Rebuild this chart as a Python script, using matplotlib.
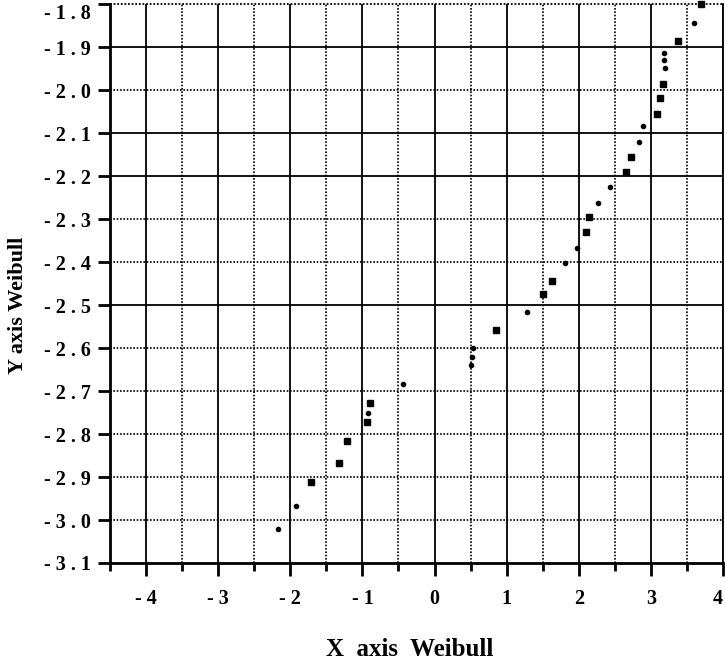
import numpy as np
import matplotlib.pyplot as plt
from matplotlib.ticker import FixedLocator, MultipleLocator

# data
sq_x = [3.69, 3.38, 3.17, 3.13, 3.09, 2.72, 2.65, 2.14, 2.10, 1.63, 1.50,
        0.85, -0.90, -0.94, -1.22, -1.33, -1.71]
sq_y = [-1.800, -1.886, -1.984, -2.017, -2.054, -2.154, -2.189, -2.294, -2.329,
        -2.443, -2.474, -2.558, -2.728, -2.772, -2.816, -2.868, -2.912]

dot_x = [3.60, 3.18, 3.18, 3.19, 2.89, 2.83, 2.43, 2.27, 1.97, 1.81, 1.28,
         0.54, 0.52, 0.50, -0.43, -0.92, -1.92, -2.17]
dot_y = [-1.844, -1.912, -1.930, -1.949, -2.084, -2.119, -2.226, -2.261, -2.366,
         -2.401, -2.516, -2.600, -2.620, -2.640, -2.683, -2.750, -2.968, -3.021]

x_ticks = [-4, -3, -2, -1, 0, 1, 2, 3, 4]
x_labels = ["- 4", "- 3", "- 2", "- 1", "0", "1", "2", "3", "4"]
y_ticks = [-1.8, -1.9, -2.0, -2.1, -2.2, -2.3, -2.4, -2.5, -2.6, -2.7, -2.8, -2.9, -3.0, -3.1]
y_labels = ["- 1 . 8", "- 1 . 9", "- 2 . 0", "- 2 . 1", "- 2 . 2", "- 2 . 3", "- 2 . 4",
            "- 2 . 5", "- 2 . 6", "- 2 . 7", "- 2 . 8", "- 2 . 9", "- 3 . 0", "- 3 . 1"]
solid_y = [-1.9, -2.1, -2.2, -2.5]

plt.rcParams['font.family'] = ['Liberation Serif', 'DejaVu Serif']
plt.rcParams['font.weight'] = 'bold'

fig = plt.figure(figsize=(7.25, 6.66), dpi=100)
ax = fig.add_axes([0.1517, 0.1547, 0.8455, 0.8386])

ax.set_xlim(-4.5, 4)
ax.set_ylim(-3.1, -1.8)

# grid: integer x solid, half x dotted
for x in np.arange(-4.0, 4.01, 0.5):
    if abs(x - round(x)) < 1e-6:
        ax.axvline(x, color='black', lw=1.3, zorder=1)
    else:
        ax.axvline(x, color='black', lw=1.2, ls=(0, (1, 1)), zorder=1)
for y in y_ticks[1:-1]:
    if y in solid_y:
        ax.axhline(y, color='black', lw=1.3, zorder=1)
    else:
        ax.axhline(y, color='black', lw=1.2, ls=(0, (1, 1)), zorder=1)
ax.axhline(-1.8, color='black', lw=1.3, ls=(0, (1, 1)), zorder=1, clip_on=False)

ax.plot(sq_x, sq_y, 's', color='black', ms=5, zorder=3, clip_on=False)
ax.plot(dot_x, dot_y, 'o', color='black', ms=3, zorder=3)

ax.spines['top'].set_visible(False)
ax.spines['right'].set_linewidth(1.3)
ax.spines['left'].set_linewidth(2)
ax.spines['bottom'].set_linewidth(2)

ax.xaxis.set_major_locator(FixedLocator(x_ticks))
ax.xaxis.set_minor_locator(MultipleLocator(0.5))
ax.set_xticklabels(x_labels)
ax.yaxis.set_major_locator(FixedLocator(y_ticks))
ax.set_yticklabels(y_labels)

ax.tick_params(axis='x', which='major', length=9, width=2, pad=10, labelsize=14.5)
ax.tick_params(axis='x', which='minor', length=6, width=2)
ax.tick_params(axis='y', which='major', length=9, width=2, pad=5, labelsize=14.5)

# keep edge labels inside the picture
ax.get_xticklabels()[-1].set_ha('right')
ax.get_yticklabels()[0].set_va('top')

ax.set_xlabel("X  axis  Weibull", fontsize=18, fontweight='bold')
ax.set_ylabel("Y axis Weibull", fontsize=16, fontweight='bold')
ax.xaxis.set_label_coords(0.489, -0.134)
ax.yaxis.set_label_coords(-0.134, 0.462)

fig.savefig("out.png", dpi=100)
